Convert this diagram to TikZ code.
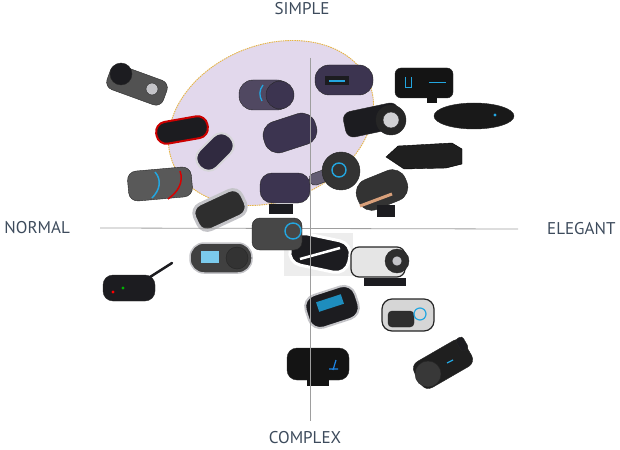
\documentclass[tikz,border=0pt]{standalone}
\usepackage{fontspec}
\setmainfont{PT Sans}
\usepackage{tikz}
\usetikzlibrary{shapes.geometric, positioning}
\definecolor{labelgray}{HTML}{3D4B5C}
\definecolor{lavender}{HTML}{E2D8EC}
\definecolor{gold}{HTML}{E6B548}
\definecolor{plum}{HTML}{3C3450}
\definecolor{onyx}{HTML}{1C1C20}
\definecolor{silver}{HTML}{C4C4C8}
\definecolor{glow}{HTML}{23A6E0}
\definecolor{copper}{HTML}{D9A07A}
\tikzset{unit/.style={rectangle, rounded corners=8pt, inner sep=0pt, draw=black!85, line width=0.4pt, fill=onyx},
	knob/.style={circle, inner sep=0pt, draw=black!85, line width=0.4pt},
	axislabel/.style={text=labelgray, font=\fontsize{17}{20}\selectfont, inner sep=0pt}}

\begin{document}
\begin{tikzpicture}[x=1pt, y=-1pt, axis/.style={draw=black!38, line width=0.8pt}, ring/.style={draw=glow, line width=1.4pt}]
	\useasboundingbox (0,0) rectangle (620,449);
	% the simple group
	\draw[fill=lavender, draw=gold, line width=0.9pt, dash pattern=on 1.5pt off 0.8pt, rotate around={22:(271,123)}] (271,123) ellipse [x radius=106, y radius=78];

	% normal side
	\node[unit, fill=black!68, minimum width=60pt, minimum height=26pt, rotate=-20] (Tab) at (137,85) {};
	\node[knob, fill=onyx, minimum size=22pt] (TabKnob) at (121,74) {};
	\node[knob, fill=silver, minimum size=12pt] (TabDot) at (152,89) {};
	\node[unit, draw=red!80!black, line width=2pt, rounded corners=10pt, minimum width=52pt, minimum height=22pt, rotate=10] (Red) at (182,130) {};
	\node[unit, fill=black!65, rounded corners=9pt, minimum width=64pt, minimum height=30pt, rotate=5] (Stripe) at (160,184) {};
	\draw[glow, line width=1.5pt] (155,172) .. controls (162,180) and (160,190) .. (152,198);
	\draw[red!85!black, line width=1.5pt] (180,171) .. controls (184,182) and (178,192) .. (168,199);
	\node[unit, fill=plum!80!black, draw=silver!70!white, line width=2pt, rounded corners=11pt, minimum width=42pt, minimum height=24pt, rotate=45] (Rim) at (215,152) {};
	\node[unit, fill=black!82, draw=silver, line width=3pt, rounded corners=10pt, minimum width=52pt, minimum height=28pt, rotate=25] (Chrome) at (220,210) {};
	\node[unit, fill=black!75, draw=silver, line width=1.5pt, rounded corners=14pt, minimum width=62pt, minimum height=30pt] (Screen) at (221,258) {};
	\node[rectangle, fill=glow!60!white, minimum width=18pt, minimum height=12pt, inner sep=0pt] (ScreenLcd) at (210,257) {};
	\node[knob, fill=black!80, minimum size=22pt] (ScreenKnob) at (237,258) {};
	\node[unit, rounded corners=10pt, minimum width=52pt, minimum height=26pt] (Walkie) at (129,288) {};
	\draw[onyx, line width=2.5pt, line cap=round] (Walkie.north east) ++(-8,4) -- (172,263);
	\fill[red] (113,292) circle (1.6);
	\fill[green!70!black] (123,288) circle (1.6);

	% inside the simple group
	\node[unit, fill=plum!90!white, rounded corners=14pt, minimum width=52pt, minimum height=30pt] (Disc) at (265,95) {};
	\node[knob, fill=plum, minimum size=28pt] (DiscKnob) at (280,95) {};
	\draw[glow, line width=1.3pt] (263,85) .. controls (259,90) and (259,96) .. (262,101);
	\node[unit, fill=plum, rounded corners=14pt, minimum width=54pt, minimum height=32pt, rotate=18] (Oval) at (290,133) {};
	\node[unit, fill=plum, rounded corners=12pt, minimum width=50pt, minimum height=30pt] (Dome) at (285,188) {};
	\node[rectangle, fill=onyx, minimum width=24pt, minimum height=10pt, inner sep=0pt] (DomeClip) at (281,209) {};

	% elegant side
	\node[unit, fill=plum, rounded corners=14pt, minimum width=58pt, minimum height=30pt] (Lcd) at (344,80) {};
	\node[rectangle, fill=onyx, minimum width=24pt, minimum height=9pt, inner sep=0pt] (LcdPanel) at (337,81) {};
	\draw[glow, line width=1.2pt] (329,81) -- (345,81);
	\node[unit, fill=black!92, rounded corners=6pt, minimum width=58pt, minimum height=30pt] (Box) at (424,83) {};
	\draw[glow, line width=1pt] (405,77) -- (405,88) -- (411,88) -- (411,77) (429,83) -- (446,83);
	\node[rectangle, fill=black!92, minimum width=10pt, minimum height=7pt, inner sep=0pt] (BoxClip) at (432,100) {};
	\node[unit, minimum width=56pt, minimum height=26pt, rotate=12] (Wheel) at (372,120) {};
	\node[knob, fill=black!85, minimum size=30pt] (WheelRim) at (391,120) {};
	\node[knob, fill=silver!80!white, minimum size=16pt] (WheelHub) at (391,120) {};
	\node[ellipse, draw=black!85, fill=black!90, minimum width=80pt, minimum height=26pt, inner sep=0pt] (Bullet) at (474,116) {};
	\fill[glow] (495,115) circle (1.6);
	\draw[fill=black!88] (386,157) -- (398,146) -- (452,143) -- (462,149) -- (462,164) -- (446,168) -- (404,169) -- cycle;
	\node[unit, fill=plum!80!white, rounded corners=5pt, minimum width=24pt, minimum height=12pt, rotate=20] (SwirlArm) at (321,177) {};
	\node[knob, fill=black!80, minimum size=38pt] (Swirl) at (341,171) {};
	\draw[ring] (339,170) circle (7);
	\node[unit, fill=black!80, rounded corners=14pt, minimum width=52pt, minimum height=32pt, rotate=22] (Shell) at (382,190) {};
	\draw[copper, line width=3pt] (360,206) -- (392,194);
	\node[rectangle, fill=onyx, minimum width=18pt, minimum height=12pt, inner sep=0pt] (ShellMount) at (386,211) {};

	% complex half
	\node[rectangle, fill=black!7, minimum width=69pt, minimum height=43pt, inner sep=0pt] (Backdrop) at (318,254) {};
	\node[unit, draw=white, line width=3pt, rounded corners=13pt, minimum width=60pt, minimum height=32pt, rotate=-12] (Sport) at (320,253) {};
	\draw[white, line width=2.5pt] (300,259) -- (340,248);
	\node[unit, fill=black!10, line width=1.2pt, minimum width=54pt, minimum height=30pt] (Cam) at (378,262) {};
	\node[knob, fill=black!82, minimum size=24pt] (CamKnob) at (397,261) {};
	\node[knob, fill=silver, minimum size=10pt] (CamHub) at (397,261) {};
	\node[rectangle, fill=onyx, minimum width=42pt, minimum height=8pt, inner sep=0pt] (CamBase) at (385,282) {};
	\node[unit, draw=silver, line width=2pt, rounded corners=12pt, minimum width=52pt, minimum height=34pt, rotate=18] (Frame) at (332,307) {};
	\node[rectangle, fill=glow!85!black, minimum width=26pt, minimum height=10pt, inner sep=0pt, rotate=18] (FrameLcd) at (330,303) {};
	\node[unit, fill=black!16, line width=1.2pt, rounded corners=10pt, minimum width=52pt, minimum height=32pt] (Pod) at (408,315) {};
	\node[unit, fill=black!82, rounded corners=4pt, minimum width=26pt, minimum height=16pt] (PodFace) at (401,319) {};
	\draw[ring, line width=1.2pt] (420,314) circle (6);
	\node[unit, fill=black!92, rounded corners=10pt, minimum width=62pt, minimum height=32pt] (Hub) at (318,364) {};
	\node[rectangle, fill=black!92, minimum width=22pt, minimum height=8pt, inner sep=0pt] (HubClip) at (318,382) {};
	\draw[glow!80!blue, line width=1.2pt] (329,369) -- (338,369) (336,360) -- (333,370);
	\node[unit, fill=black!88, minimum width=58pt, minimum height=30pt, rotate=30] (Action) at (443,364) {};
	\node[knob, fill=black!78, minimum size=26pt] (ActionLens) at (428,374) {};
	\node[unit, rounded corners=3pt, minimum width=8pt, minimum height=14pt, rotate=30] (ActionFin) at (462,344) {};
	\draw[glow, line width=1.2pt] (447,363) -- (453,360);

	% the two axes
	\coordinate (West) at (100,228);
	\coordinate (East) at (518,229);
	\coordinate (North) at (310,58);
	\coordinate (South) at (310,421);
	\draw[axis] (West) -- (East);
	\draw[axis] (North) -- (South);
	% this one sits on top of the axis
	\node[unit, fill=black!72, minimum width=50pt, minimum height=32pt] (Ring) at (277,234) {};
	\draw[ring] (293,231) circle (8);

	\node[axislabel] (Simple) at (302,9) {SIMPLE};
	\node[axislabel] (Complex) at (305,438) {COMPLEX};
	\node[axislabel, left=30pt of West] (Normal) {NORMAL};
	\node[axislabel, right=29pt of East] (Elegant) {ELEGANT};
\end{tikzpicture}
\end{document}
